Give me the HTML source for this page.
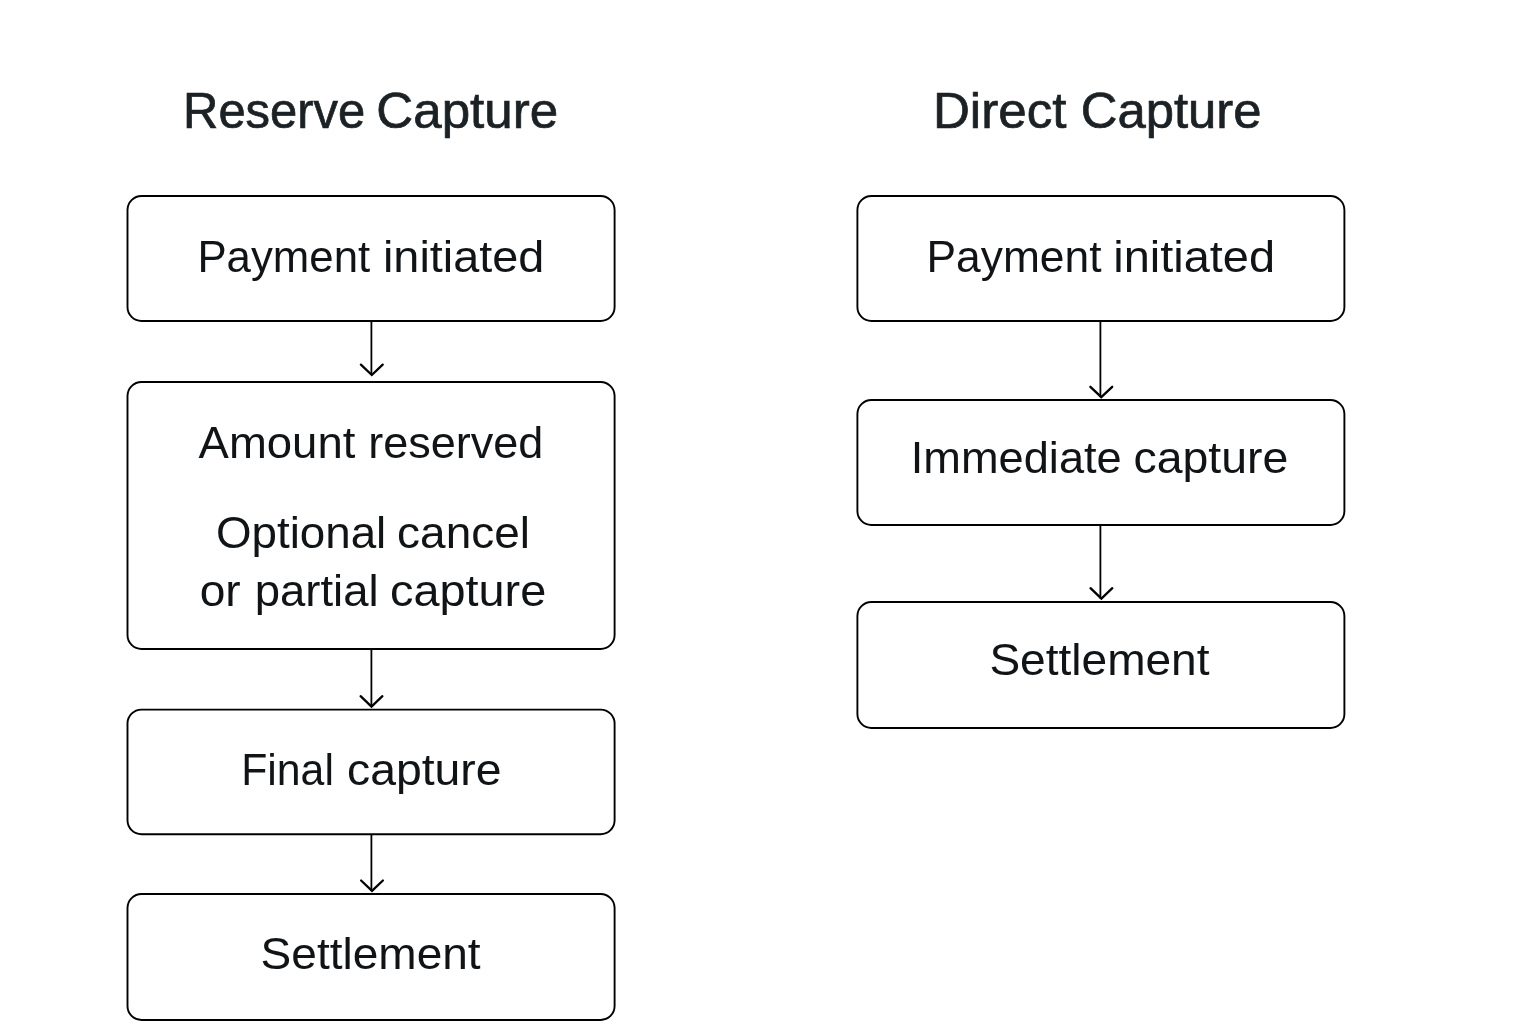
<!DOCTYPE html>
<html><head><meta charset="utf-8"><style>
html,body{margin:0;padding:0;background:#fff;width:1536px;height:1024px;overflow:hidden}
svg{display:block;will-change:transform}
text{font-family:"Liberation Sans",sans-serif}
</style></head><body>
<svg width="1536" height="1024" viewBox="0 0 1536 1024">
<rect width="1536" height="1024" fill="#fff"/>
<rect x="127.5" y="196" width="487.10" height="125.00" rx="14" fill="none" stroke="#000" stroke-width="1.9"/>
<rect x="127.5" y="382" width="487.10" height="267.00" rx="14" fill="none" stroke="#000" stroke-width="1.9"/>
<rect x="127.5" y="709.6" width="487.10" height="124.60" rx="14" fill="none" stroke="#000" stroke-width="1.9"/>
<rect x="127.5" y="894" width="487.10" height="126.00" rx="14" fill="none" stroke="#000" stroke-width="1.9"/>
<rect x="857.4" y="196" width="487.00" height="125.00" rx="14" fill="none" stroke="#000" stroke-width="1.9"/>
<rect x="857.4" y="400" width="487.00" height="125.00" rx="14" fill="none" stroke="#000" stroke-width="1.9"/>
<rect x="857.4" y="602" width="487.00" height="126.00" rx="14" fill="none" stroke="#000" stroke-width="1.9"/>
<path d="M371.4 321V375.00" fill="none" stroke="#000" stroke-width="1.8"/>
<path d="M360.90 364.60L371.8 375.00L382.70 364.60" fill="none" stroke="#000" stroke-width="2.3" stroke-linecap="round" stroke-linejoin="miter"/>
<path d="M371.4 649V706.60" fill="none" stroke="#000" stroke-width="1.8"/>
<path d="M360.60 696.20L371.5 706.60L382.40 696.20" fill="none" stroke="#000" stroke-width="2.3" stroke-linecap="round" stroke-linejoin="miter"/>
<path d="M371.4 834.2V890.90" fill="none" stroke="#000" stroke-width="1.8"/>
<path d="M361.10 880.50L372.0 890.90L382.90 880.50" fill="none" stroke="#000" stroke-width="2.3" stroke-linecap="round" stroke-linejoin="miter"/>
<path d="M1100.4 321V397.20" fill="none" stroke="#000" stroke-width="1.8"/>
<path d="M1090.40 386.80L1101.3 397.20L1112.20 386.80" fill="none" stroke="#000" stroke-width="2.3" stroke-linecap="round" stroke-linejoin="miter"/>
<path d="M1100.4 525V598.60" fill="none" stroke="#000" stroke-width="1.8"/>
<path d="M1090.50 588.20L1101.4 598.60L1112.30 588.20" fill="none" stroke="#000" stroke-width="2.3" stroke-linecap="round" stroke-linejoin="miter"/>
<text x="274.16" y="128.00" text-anchor="middle" font-size="49.5" stroke="#1b2124" stroke-width="0.7" fill="#1b2124" textLength="182.14" lengthAdjust="spacingAndGlyphs">Reserve</text>
<text x="467.20" y="128.00" text-anchor="middle" font-size="49.5" stroke="#1b2124" stroke-width="0.7" fill="#1b2124" textLength="181.70" lengthAdjust="spacingAndGlyphs">Capture</text>
<text x="999.64" y="128.00" text-anchor="middle" font-size="49.5" stroke="#1b2124" stroke-width="0.7" fill="#1b2124" textLength="133.53" lengthAdjust="spacingAndGlyphs">Direct</text>
<text x="1171.11" y="128.00" text-anchor="middle" font-size="49.5" stroke="#1b2124" stroke-width="0.7" fill="#1b2124" textLength="180.73" lengthAdjust="spacingAndGlyphs">Capture</text>
<text x="283.79" y="272.00" text-anchor="middle" font-size="45" fill="#111416" textLength="172.74" lengthAdjust="spacingAndGlyphs">Payment</text>
<text x="463.61" y="272.00" text-anchor="middle" font-size="45" fill="#111416" textLength="161.30" lengthAdjust="spacingAndGlyphs">initiated</text>
<text x="276.98" y="458.00" text-anchor="middle" font-size="45" fill="#111416" textLength="156.70" lengthAdjust="spacingAndGlyphs">Amount</text>
<text x="455.79" y="458.00" text-anchor="middle" font-size="45" fill="#111416" textLength="175.11" lengthAdjust="spacingAndGlyphs">reserved</text>
<text x="301.10" y="548.00" text-anchor="middle" font-size="45" fill="#111416" textLength="170.38" lengthAdjust="spacingAndGlyphs">Optional</text>
<text x="463.52" y="548.00" text-anchor="middle" font-size="45" fill="#111416" textLength="132.77" lengthAdjust="spacingAndGlyphs">cancel</text>
<text x="220.16" y="606.00" text-anchor="middle" font-size="45" fill="#111416" textLength="41.01" lengthAdjust="spacingAndGlyphs">or</text>
<text x="316.65" y="606.00" text-anchor="middle" font-size="45" fill="#111416" textLength="123.92" lengthAdjust="spacingAndGlyphs">partial</text>
<text x="468.16" y="606.00" text-anchor="middle" font-size="45" fill="#111416" textLength="156.28" lengthAdjust="spacingAndGlyphs">capture</text>
<text x="287.57" y="785.00" text-anchor="middle" font-size="45" fill="#111416" textLength="92.72" lengthAdjust="spacingAndGlyphs">Final</text>
<text x="424.22" y="785.00" text-anchor="middle" font-size="45" fill="#111416" textLength="154.47" lengthAdjust="spacingAndGlyphs">capture</text>
<text x="370.65" y="969.00" text-anchor="middle" font-size="45" fill="#111416" textLength="220.04" lengthAdjust="spacingAndGlyphs">Settlement</text>
<text x="1014.02" y="272.00" text-anchor="middle" font-size="45" fill="#111416" textLength="174.98" lengthAdjust="spacingAndGlyphs">Payment</text>
<text x="1194.14" y="272.00" text-anchor="middle" font-size="45" fill="#111416" textLength="161.78" lengthAdjust="spacingAndGlyphs">initiated</text>
<text x="1016.27" y="473.00" text-anchor="middle" font-size="45" fill="#111416" textLength="210.95" lengthAdjust="spacingAndGlyphs">Immediate</text>
<text x="1210.87" y="473.00" text-anchor="middle" font-size="45" fill="#111416" textLength="154.85" lengthAdjust="spacingAndGlyphs">capture</text>
<text x="1099.48" y="675.00" text-anchor="middle" font-size="45" fill="#111416" textLength="220.12" lengthAdjust="spacingAndGlyphs">Settlement</text>
</svg>
</body></html>
